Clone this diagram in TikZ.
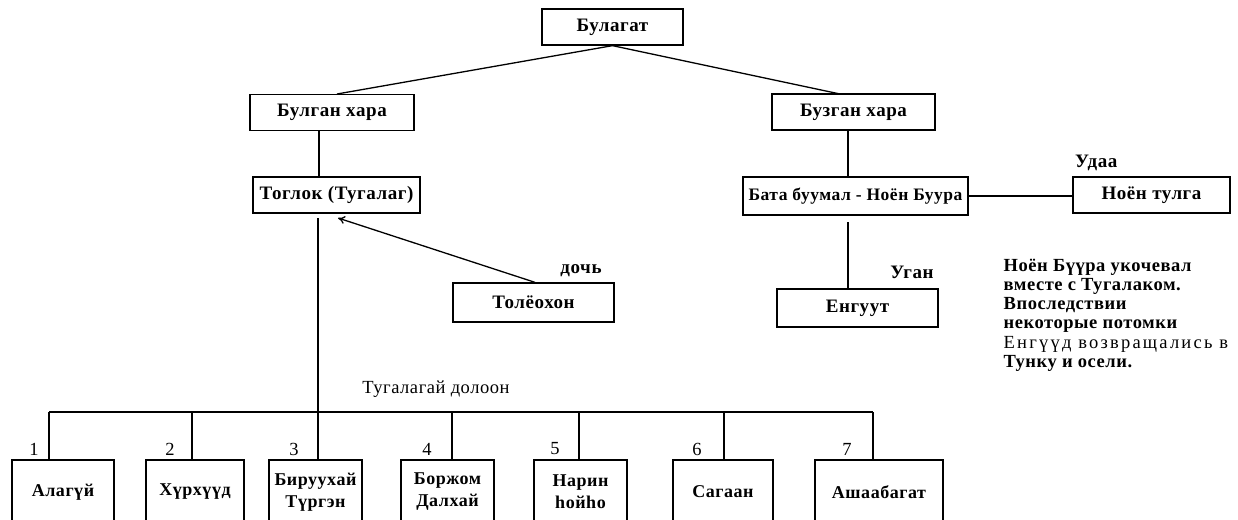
\documentclass[tikz,border=0pt]{standalone}
\usepackage{fontspec}
\setmainfont{Liberation Serif}[LetterSpace=3]
\usetikzlibrary{arrows.meta}
\begin{document}
\begin{tikzpicture}[x=1pt,y=-1pt,line width=1.3pt,
    every node/.style={font=\fontsize{19}{20}\selectfont\bfseries},
    box/.style={draw,inner sep=0pt,minimum height=36pt},
    kid/.style={draw,inner sep=0pt,minimum height=64pt,align=center,
      font=\fontsize{18}{22}\selectfont\bfseries},
    plain/.style={font=\fontsize{18.5}{20}\selectfont\mdseries}]
  \useasboundingbox (0,0) rectangle (1238,519);
  %%%% the top
  \node[box,minimum width=141pt] (bulagat) at (612.5,27) {Булагат};
  \node[box,minimum width=164pt] (bulgan) at (332,112.5) {Булган хара};
  \node[box,minimum width=163pt] (buzgan) at (853.5,112) {Бузган хара};
  \draw (bulagat.south) -- (337,94);
  \draw (bulagat.south) -- (840,94);
  %%%% left branch
  \node[box,minimum width=167pt] (toglok) at (336.5,195) {Тоглок (Тугалаг)};
  \node[box,minimum width=161pt,minimum height=39pt] (tolyo) at (533.5,302.5) {Толёохон};
  \node (doch) at (581,271) {дочь};
  \coordinate (trunk) at (318,218);
  \draw (bulgan.south -| 319,0) -- (toglok.north -| 319,0);
  \draw[-{To[length=7pt,width=8pt]}] (tolyo.north -| 535,0) -- (338,218);
  %%%% right branch
  \node[box,minimum width=225pt,minimum height=38pt,
    font=\fontsize{17.5}{18}\selectfont\bfseries] (bata) at (855.5,196) {Бата буумал - Ноён Буура};
  \node[box,minimum width=157pt] (noyon) at (1151.5,195) {Ноён тулга};
  \node[box,minimum width=161pt,minimum height=38pt] (engut) at (857.5,308) {Енгуут};
  \node[anchor=west] (udaa) at (1071,163) {Удаа};
  \node (ugan) at (912,272) {Уган};
  \draw (buzgan.south -| 848,0) -- (bata.north -| 848,0);
  \draw (bata.east) -- (bata.east -| noyon.west);
  \draw (848,222) -- (engut.north -| 848,0);
  %% the note
  \node[anchor=north west,align=left,inner sep=0pt,
    font=\fontsize{18.5}{19.3}\selectfont\bfseries] (note) at (1003,258)
    {Ноён Бүүра укочевал\\вместе с Тугалаком.\\Впоследствии\\некоторые потомки\\
     {\mdseries\addfontfeature{LetterSpace=12}Енгүүд возвращались в}\\Тунку и осели.};
  %%%% the seven
  \node[plain] (dolo) at (436,389) {Тугалагай долоон};
  \coordinate (bar1) at (49,412);
  \coordinate (bar7) at (873,412);
  \draw (bar1) -- (bar7);
  \foreach \i/\c/\w/\l/\n/\t in {1/63/102/49/34/{Алагүй},2/195/98/192/170/{Хүрхүүд},
      3/315.5/93/318/294/{Бируухай\\Түргэн},4/447.5/93/452/427/{Боржом\\Далхай},
      5/580.5/93/579/555/{Нарин\\һойһо},6/723/100/724/697/{Сагаан},7/879/128/873/847/{Ашаабагат}}
  {
    \node[kid,minimum width=\w pt] (kid\i) at (\c,492) {\t};
    \node[plain] (num\i) at (\n,449) {\i};
    \coordinate (bar\i) at (\l,412);
    \draw (bar\i) -- (kid\i.north -| bar\i);
  }
  \draw (trunk) -- (bar3);
\end{tikzpicture}
\end{document}
